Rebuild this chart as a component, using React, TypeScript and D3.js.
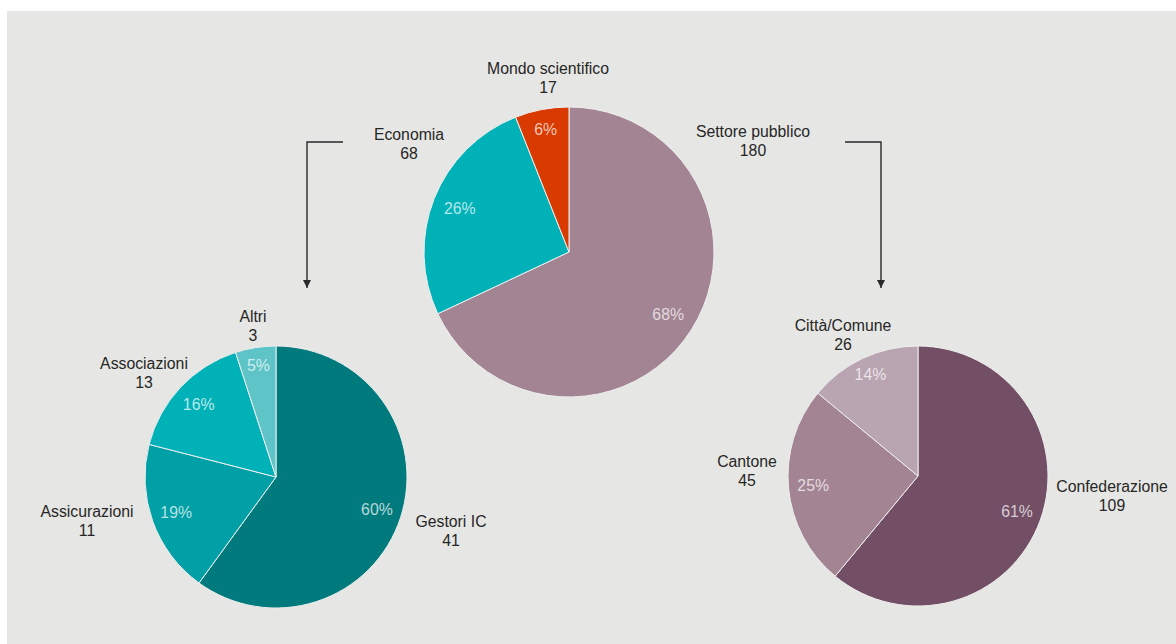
import React, { useEffect } from "react";
import * as d3 from "d3";

// ---- data ----
const mainNames = ["Settore pubblico", "Economia", "Mondo scientifico"];
const mainCounts = [180, 68, 17];
const mainShares = [68, 26, 6];

const econNames = ["Gestori IC", "Assicurazioni", "Associazioni", "Altri"];
const econCounts = [41, 11, 13, 3];
const econShares = [60, 19, 16, 5];

const pubNames = ["Confederazione", "Cantone", "Città/Comune"];
const pubCounts = [109, 45, 26];
const pubShares = [61, 25, 14];

// ---- style ----
const W = 1176;
const H = 644;
const BG = "#e6e7e4";
const FONT = "'Liberation Sans', Arial, Helvetica, sans-serif";
const TEXT = "#262626";

const mainColors = ["#a28493", "#00b2b8", "#d93a00"];
const econColors = ["#007a7c", "#00a0a6", "#00b2b8", "#5ec4c7"];
const pubColors = ["#734f66", "#a28493", "#b9a4b1"];

type PieSpec = {
  key: string;
  cx: number;
  cy: number;
  r: number;
  names: string[];
  counts: number[];
  shares: number[];
  colors: string[];
  labelOffsets: [number, number][];
};

const pies: PieSpec[] = [
  {
    key: "main",
    cx: 569,
    cy: 252,
    r: 145,
    names: mainNames,
    counts: mainCounts,
    shares: mainShares,
    colors: mainColors,
    labelOffsets: [
      [184, -115],
      [-160, -112],
      [-21, -178],
    ],
  },
  {
    key: "econ",
    cx: 276,
    cy: 477,
    r: 131,
    names: econNames,
    counts: econCounts,
    shares: econShares,
    colors: econColors,
    labelOffsets: [
      [175, 50],
      [-189, 40],
      [-132, -108],
      [-23, -155],
    ],
  },
  {
    key: "pub",
    cx: 918,
    cy: 476,
    r: 130,
    names: pubNames,
    counts: pubCounts,
    shares: pubShares,
    colors: pubColors,
    labelOffsets: [
      [194, 16],
      [-171, -9],
      [-75, -145],
    ],
  },
];

function Pie({ spec }: { spec: PieSpec }) {
  const idx = spec.shares.map((_, i) => i);
  const pieGen = d3
    .pie<number>()
    .sort(null)
    .value((i) => spec.shares[i]);
  const arcs = pieGen(idx);
  const arcGen = d3.arc<d3.PieArcDatum<number>>().innerRadius(0).outerRadius(spec.r);
  return (
    <g transform={`translate(${spec.cx},${spec.cy})`}>
      {arcs.map((a) => (
        <path
          key={a.index}
          d={arcGen(a) || ""}
          fill={spec.colors[a.data]}
          stroke="#eeeeee"
          strokeWidth={1}
          strokeLinejoin="round"
        />
      ))}
      {arcs.map((a) => {
        const share = spec.shares[a.data];
        const lr = spec.r * (share < 15 ? 0.86 : 0.81);
        const lab = d3.arc<d3.PieArcDatum<number>>().innerRadius(lr).outerRadius(lr);
        const [x, y] = lab.centroid(a);
        return (
          <text
            key={"p" + a.index}
            x={x}
            y={y}
            dy="0.35em"
            textAnchor="middle"
            fontFamily={FONT}
            fontSize={15.8}
            fill="#ffffff"
            fillOpacity={0.72}
          >
            {share}%
          </text>
        );
      })}
      {idx.map((i) => {
        const [dx, dy] = spec.labelOffsets[i];
        return (
          <text
            key={"l" + i}
            x={dx}
            y={dy}
            textAnchor="middle"
            fontFamily={FONT}
            fontSize={15.8}
            fill={TEXT}
          >
            <tspan x={dx}>{spec.names[i]}</tspan>
            <tspan x={dx} dy={19}>
              {spec.counts[i]}
            </tspan>
          </text>
        );
      })}
    </g>
  );
}

export default function App() {
  useEffect(() => {
    document.body.style.margin = "0";
  }, []);
  const main = pies[0];
  const econ = pies[1];
  const pub = pies[2];
  const arrowY = main.cy - 110;
  const arrowEnd = 288;
  const leftX = econ.cx + 31;
  const rightX = pub.cx - 37;
  return (
    <svg
      width={W}
      height={H}
      style={{ position: "absolute", left: 0, top: 0, background: "#ffffff" }}
    >
      <defs>
        <marker
          id="arr"
          viewBox="0 0 10 10"
          refX={10}
          refY={5}
          markerWidth={8}
          markerHeight={8}
          markerUnits="userSpaceOnUse"
          orient="auto"
        >
          <path d="M0,0 L10,5 L0,10 Z" fill="#2a2a2a" />
        </marker>
      </defs>
      <rect x={7} y={11} width={W - 7} height={H - 11} fill={BG} />
      <path
        d={`M${main.cx - 226},${arrowY} H${leftX} V${arrowEnd}`}
        fill="none"
        stroke="#2a2a2a"
        strokeWidth={1.4}
        markerEnd="url(#arr)"
      />
      <path
        d={`M${main.cx + 276},${arrowY} H${rightX} V${arrowEnd}`}
        fill="none"
        stroke="#2a2a2a"
        strokeWidth={1.4}
        markerEnd="url(#arr)"
      />
      {pies.map((p) => (
        <Pie key={p.key} spec={p} />
      ))}
    </svg>
  );
}
